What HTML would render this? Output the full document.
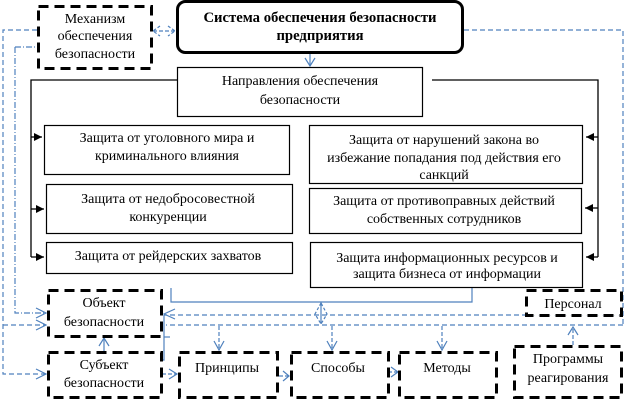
<!DOCTYPE html>
<html><head><meta charset="utf-8"><style>
html,body{margin:0;padding:0;background:#fff;}
svg{display:block;}
text{font-family:"Liberation Serif","DejaVu Serif",serif;font-size:14px;fill:#000;}
.b{font-weight:bold;font-size:14.7px;}
</style></head><body>
<svg width="626" height="402" viewBox="0 0 626 402" xmlns="http://www.w3.org/2000/svg">
<rect width="626" height="402" fill="#fff"/>
<defs>
<marker id="fa" markerWidth="10" markerHeight="10" refX="8" refY="4" orient="auto" markerUnits="userSpaceOnUse">
<path d="M0,0 L8,4 L0,8 Z" fill="#000"/>
</marker>
</defs>

<!-- blue connectors -->
<g fill="none" stroke="#4f81bd" stroke-width="1.2">
  <line x1="310" y1="54" x2="310" y2="66"/>
  <polyline points="305,58 310,66 315,58"/>
  <line x1="153" y1="31" x2="175" y2="31" stroke-dasharray="4,2"/>
  <polyline points="160,26 153,31 160,36" stroke-dasharray="3,2"/>
  <polyline points="168,26 175,31 168,36" stroke-dasharray="3,2"/>
  <polyline points="464,30 623,30 623,325" stroke-dasharray="5,3"/>
  <line x1="623" y1="315" x2="164" y2="315" stroke-dasharray="5,3"/>
  <line x1="623" y1="325" x2="166" y2="325" stroke-dasharray="5,3"/>
  <polyline points="175,309 164,314 175,319"/>
  <polyline points="37,30 3,30 3,374 46,374" stroke-dasharray="5,3"/>
  <line x1="3" y1="325" x2="46" y2="325" stroke-dasharray="5,3"/>
  <polyline points="15,47 37,47" stroke-dasharray="6,2,1,2"/>
  <polyline points="15,47 15,313 46,313" stroke-dasharray="6,2,1,2"/>
  <polyline points="36,308 46,313 36,318"/>
  <polyline points="36,320 46,325 36,330"/>
  <polyline points="36,369 46,374 36,379"/>
  <polyline points="164,315 164,360 159,360"/>
  <line x1="164" y1="337" x2="170" y2="337"/>
  <polyline points="171,288 171,302 472,302 472,288"/>
  <line x1="321" y1="302" x2="321" y2="324"/>
  <polygon points="321,303 315,314 321,324 327,314" stroke-dasharray="3,2"/>
  <line x1="219" y1="326" x2="219" y2="350" stroke-dasharray="4,2"/>
  <polyline points="214,341 219,350 224,341"/>
  <line x1="332" y1="326" x2="332" y2="350" stroke-dasharray="4,2"/>
  <polyline points="327,341 332,350 337,341"/>
  <line x1="442" y1="326" x2="442" y2="350" stroke-dasharray="4,2"/>
  <polyline points="437,341 442,350 447,341"/>
  <line x1="573" y1="345" x2="573" y2="327" stroke-dasharray="4,2"/>
  <polyline points="568,335 573,327 578,335"/>
  <line x1="104" y1="351" x2="104" y2="338"/>
  <polyline points="99,346 104,338 109,346"/>
  <line x1="162" y1="374" x2="177" y2="374" stroke-dasharray="4,2"/>
  <polyline points="169,369 177,374 169,379"/>
  <line x1="279" y1="376" x2="289" y2="376" stroke-dasharray="4,2"/>
  <polyline points="283,371 289,376 283,381"/>
  <line x1="389" y1="372" x2="398" y2="372" stroke-dasharray="3,2"/>
  <polyline points="391,367 398,372 391,377"/>
</g>

<!-- black bracket lines -->
<g fill="none" stroke="#000" stroke-width="1.3">
  <polyline points="177,80 31,80 31,257"/>
  <line x1="31" y1="137" x2="42" y2="137" marker-end="url(#fa)"/>
  <line x1="31" y1="209" x2="44" y2="209" marker-end="url(#fa)"/>
  <line x1="31" y1="257" x2="44" y2="257" marker-end="url(#fa)"/>
  <polyline points="432,80 598,80 598,257"/>
  <line x1="598" y1="137" x2="586" y2="137" marker-end="url(#fa)"/>
  <line x1="598" y1="208" x2="585" y2="208" marker-end="url(#fa)"/>
  <line x1="598" y1="257" x2="586" y2="257" marker-end="url(#fa)"/>
</g>

<!-- header -->
<rect x="177.5" y="1.5" width="285" height="51" rx="8" ry="8" fill="#fff" stroke="#000" stroke-width="3"/>
<text class="b" x="320" y="22" text-anchor="middle">Система обеспечения безопасности</text>
<text class="b" x="320" y="40" text-anchor="middle">предприятия</text>

<!-- Napravleniya -->
<rect x="177.5" y="67.5" width="245" height="49" fill="#fff" stroke="#000" stroke-width="1.2"/>
<text x="300" y="85" text-anchor="middle">Направления обеспечения</text>
<text x="300" y="104" text-anchor="middle">безопасности</text>

<g fill="#fff" stroke="#000" stroke-width="1.2">
  <rect x="44.5" y="125.5" width="245" height="49"/>
  <rect x="46.5" y="184.5" width="246" height="49"/>
  <rect x="46.5" y="242.5" width="246" height="31"/>
  <rect x="309.5" y="125.5" width="273" height="58"/>
  <rect x="309.5" y="188.5" width="272" height="45"/>
  <rect x="310.5" y="242.5" width="272" height="45"/>
</g>
<text x="167" y="142" text-anchor="middle">Защита от уголовного мира и</text>
<text x="167" y="160" text-anchor="middle">криминального влияния</text>
<text x="168" y="203" text-anchor="middle">Защита от недобросовестной</text>
<text x="168" y="221" text-anchor="middle">конкуренции</text>
<text x="168" y="260" text-anchor="middle">Защита от рейдерских захватов</text>
<text x="444" y="144" text-anchor="middle">Защита от нарушений закона во</text>
<text x="444" y="162" text-anchor="middle">избежание попадания под действия его</text>
<text x="444" y="179" text-anchor="middle">санкций</text>
<text x="444" y="205" text-anchor="middle">Защита от противоправных действий</text>
<text x="444" y="223" text-anchor="middle">собственных сотрудников</text>
<text x="447" y="262" text-anchor="middle">Защита информационных ресурсов и</text>
<text x="447" y="278" text-anchor="middle">защита бизнеса от информации</text>

<g fill="#fff" stroke="#000" stroke-width="3" stroke-dasharray="10,6">
  <rect x="38.5" y="6.5" width="113" height="62"/>
  <rect x="48.5" y="290.5" width="113" height="46"/>
  <rect x="48.5" y="352.5" width="113" height="45"/>
  <rect x="179.5" y="352.5" width="98" height="45"/>
  <rect x="291.5" y="352.5" width="97" height="45"/>
  <rect x="399.5" y="352.5" width="97" height="45"/>
  <rect x="514.5" y="346.5" width="107" height="51"/>
  <rect x="526.5" y="290.5" width="95" height="25"/>
</g>
<text x="95" y="23" text-anchor="middle">Механизм</text>
<text x="95" y="40" text-anchor="middle">обеспечения</text>
<text x="95" y="58" text-anchor="middle">безопасности</text>
<text x="104" y="307" text-anchor="middle">Объект</text>
<text x="104" y="326" text-anchor="middle">безопасности</text>
<text x="104" y="369" text-anchor="middle">Субъект</text>
<text x="104" y="387" text-anchor="middle">безопасности</text>
<text x="227" y="372" text-anchor="middle">Принципы</text>
<text x="338" y="372" text-anchor="middle">Способы</text>
<text x="447" y="372" text-anchor="middle">Методы</text>
<text x="568" y="363" text-anchor="middle">Программы</text>
<text x="568" y="382" text-anchor="middle">реагирования</text>
<text x="573" y="308" text-anchor="middle">Персонал</text>
</svg>
</body></html>
